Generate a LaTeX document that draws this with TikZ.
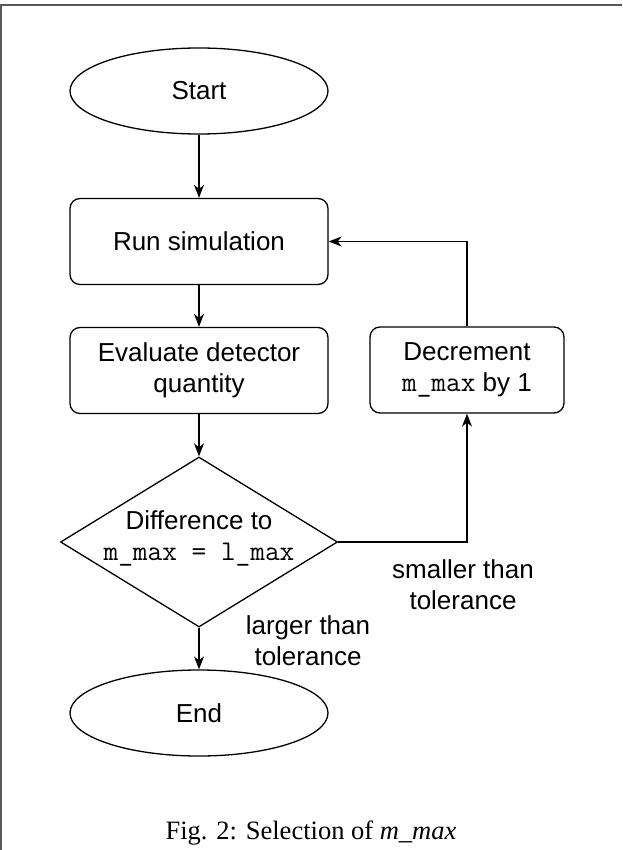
\documentclass[tikz,border=0pt]{standalone}
\usepackage{fontspec}
\setmainfont{Liberation Serif}
\setsansfont{Liberation Sans}
\usetikzlibrary{shapes.geometric,arrows.meta}
\newcommand\monotxt[1]{{\fontsize{28.5}{31}\selectfont\ttfamily #1}}
\begin{document}
\begin{tikzpicture}[x=1pt,y=-1pt,
  lbl/.style={font=\sffamily\fontsize{26}{31}\selectfont, text=black, align=center},
  term/.style={ellipse, draw, line width=1.3pt, minimum width=258pt, minimum height=86pt, inner sep=0pt, lbl},
  procbox/.style={rectangle, rounded corners=10pt, draw, line width=1.3pt, minimum height=86pt, inner sep=0pt, lbl},
  arr/.style={line width=1.3pt, -{Stealth[length=13pt,width=10pt,inset=4pt]}},
  frame/.style={draw=black!65, line width=1.8pt}
]
\useasboundingbox (0,0) rectangle (622,850);
\draw[frame] (0,5) -- (622,5);
\draw[frame] (0.9,5) -- (0.9,850);

\node[term] (start) at (199,91) {Start};
\node[procbox, minimum width=258pt] (run) at (199,241.5) {Run simulation};
\node[procbox, minimum width=258pt] (eval) at (199,370.5) {Evaluate detector\\quantity};
\node[procbox, minimum width=194pt] (decr) at (467,370) {Decrement\\\monotxt{m\_max} by 1};
\node[diamond, draw, line width=1.3pt, minimum width=277pt, minimum height=170pt, inner sep=0pt] (dec) at (199,542) {};
\node[lbl] (dectext) at (199,538) {Difference to\\\monotxt{m\_max = l\_max}};
\node[term] (end) at (199,713) {End};

\node[lbl] (small) at (463,585) {smaller than\\tolerance};
\node[lbl] (large) at (308,641) {larger than\\tolerance};

\node[font=\fontsize{26.5}{30}\selectfont, text=black] (cap) at (311,833) {Fig. 2: Selection of \textit{m\_max}};

\draw[arr] (start) -- (run);
\draw[arr] (run) -- (eval);
\draw[arr] (eval) -- (dec);
\draw[arr] (dec) -- (end);
\draw[arr] (dec.east) -| (decr.south);
\draw[arr] (decr.north) |- (run.east);
\end{tikzpicture}
\end{document}
